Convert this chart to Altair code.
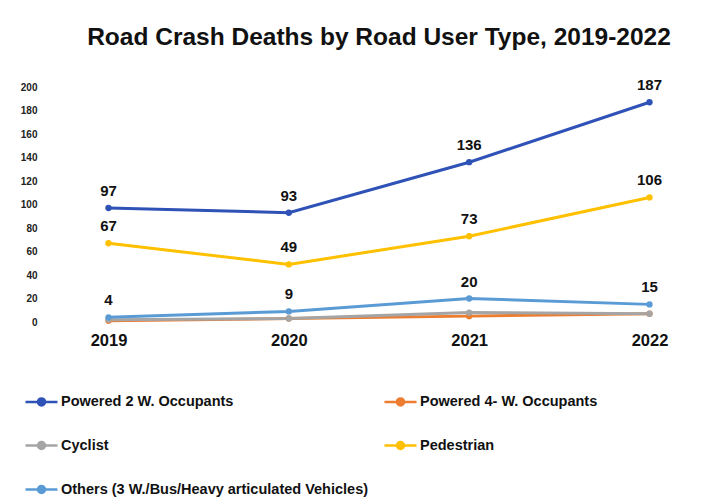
import altair as alt
import pandas as pd

years = ["2019", "2020", "2021", "2022"]
series_names = [
    "Powered 2 W. Occupants",
    "Powered 4- W. Occupants",
    "Cyclist",
    "Pedestrian",
    "Others (3 W./Bus/Heavy articulated Vehicles)",
]
p2w = [97, 93, 136, 187]
p4w = [1, 3, 5, 7]
cyclist = [2, 3, 8, 7]
pedestrian = [67, 49, 73, 106]
others = [4, 9, 20, 15]
labelled = ["Powered 2 W. Occupants", "Pedestrian", "Others (3 W./Bus/Heavy articulated Vehicles)"]
colors = ["#2F52B6", "#ED7D31", "#A5A5A5", "#FFC000", "#5B9BD5"]

rows = []
for name, vals in zip(series_names, [p2w, p4w, cyclist, pedestrian, others]):
    for y, v in zip(years, vals):
        rows.append({"Year": y, "Deaths": v, "Type": name, "Show": name in labelled})
df = pd.DataFrame(rows)

x = alt.X("Year:N", sort=years,
          scale=alt.Scale(type="point", padding=0.28),
          axis=alt.Axis(title=None, labelAngle=0, domain=False, ticks=False,
                        labelFontSize=16.5, labelFontWeight="bold", labelPadding=10,
                        labelColor="#111"))
y = alt.Y("Deaths:Q", scale=alt.Scale(domain=[0, 200], nice=False),
          axis=alt.Axis(title=None, values=list(range(0, 201, 20)), domain=False, ticks=False,
                        grid=False, labelFontSize=10, labelFontWeight="bold", labelPadding=21,
                        labelColor="#222"))
color = alt.Color("Type:N", sort=series_names,
                  scale=alt.Scale(domain=series_names, range=colors),
                  legend=alt.Legend(title=None, orient="none", legendX=-34, legendY=297,
                                    direction="horizontal",
                                    columns=2, columnPadding=10, rowPadding=17,
                                    labelFontSize=14.5, labelFontWeight="bold", labelColor="#111",
                                    labelLimit=500, labelOffset=2,
                                    symbolType="M-1,0L1,0M-0.22,0a0.22,0.22 0 1,0 0.44,0a0.22,0.22 0 1,0 -0.44,0",
                                    symbolSize=1024, symbolStrokeWidth=2.5))

base = alt.Chart(df)
lines = base.mark_line(strokeWidth=3).encode(x=x, y=y, color=color)
points = base.mark_circle(size=40, opacity=1).encode(x=x, y=y, color=alt.Color("Type:N", sort=series_names, scale=alt.Scale(domain=series_names, range=colors), legend=None))
labels = base.transform_filter(alt.datum.Show).mark_text(
    dy=-9, baseline="bottom", fontSize=15, fontWeight="bold", color="#111"
).encode(x=x, y=y, text="Deaths:Q")

chart = alt.layer(lines, points, labels).properties(
    width=642, height=235,
    title=alt.TitleParams("Road Crash Deaths by Road User Type, 2019-2022",
                          fontSize=24.5, fontWeight="bold", color="#111", offset=28, anchor="middle"),
    padding={"left": 12, "top": 16, "right": 5, "bottom": 5},
).configure(font="Liberation Sans").configure_view(strokeWidth=0, stroke="transparent")

chart.save("out.html", embed_options={"renderer": "svg", "actions": False})
